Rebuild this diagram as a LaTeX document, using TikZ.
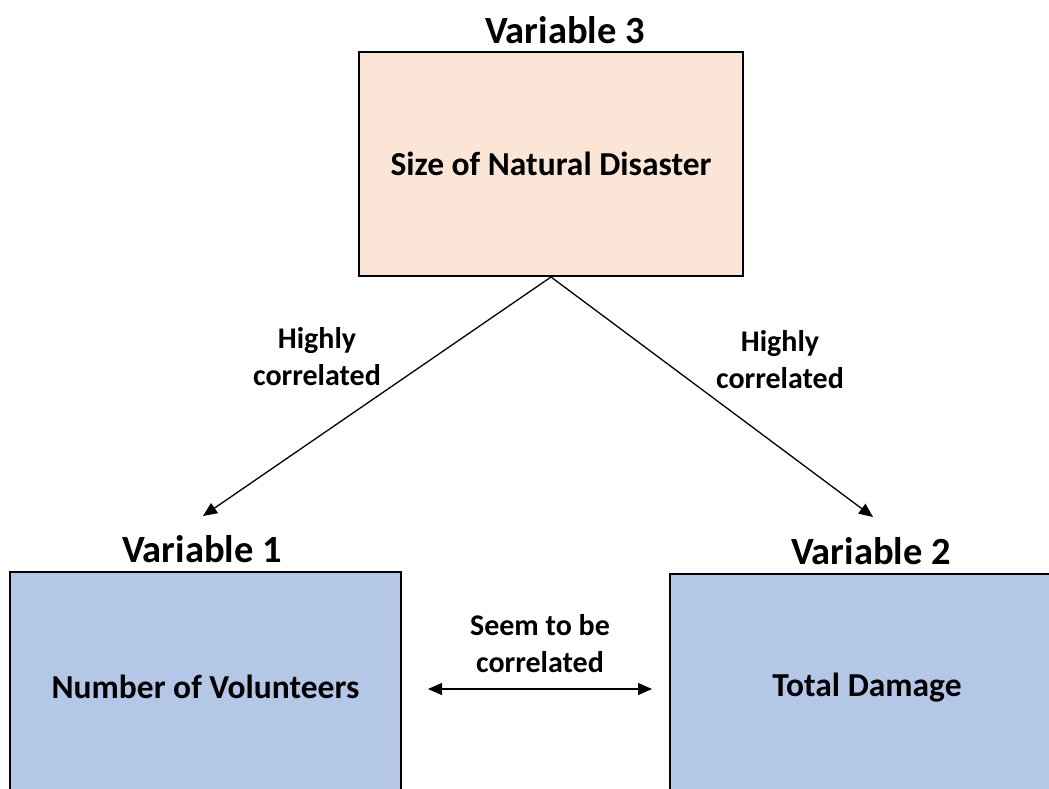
\documentclass[tikz,border=0pt]{standalone}
\usepackage{fontspec}
\setmainfont{Carlito}
\usetikzlibrary{arrows.meta}
\definecolor{peach}{HTML}{FBE5D6}
\definecolor{lblue}{HTML}{B4C7E7}
\begin{document}
\begin{tikzpicture}[x=1pt,y=-1pt,
  box/.style={draw=black,line width=2pt,inner sep=0pt,font=\bfseries\fontsize{33.5}{38}\selectfont},
  head/.style={font=\bfseries\fontsize{38.5}{42}\selectfont},
  lbl/.style={font=\bfseries\fontsize{30}{37}\selectfont,align=center},
  conn/.style={line width=1.3pt,-{Triangle[length=14pt,width=12pt]}}]
\useasboundingbox (0,0) rectangle (1049,789);
\clip (0,0) rectangle (1049,789);
\fill[white] (0,0) rectangle (1049,789);
\node[box,fill=peach,minimum width=384pt,minimum height=224pt] (top) at (551,164) {Size of Natural Disaster};
\node[box,fill=lblue,minimum width=391pt,minimum height=230pt] (left) at (205.5,687) {Number of Volunteers};
\node[box,fill=lblue,minimum width=394pt,minimum height=228pt] (right) at (867,688) {Total Damage};
\node[head] (h3) at (565,30) {Variable 3};
\node[head] (h1) at (202,549) {Variable 1};
\node[head] (h2) at (871,551) {Variable 2};
\coordinate (e1) at (203,516);
\coordinate (e2) at (873,517);
\draw[conn] (top.south) -- (e1);
\draw[conn] (top.south) -- (e2);
\node[lbl] (l1) at (317,357) {Highly\\correlated};
\node[lbl] (l2) at (780,360) {Highly\\correlated};
\node[lbl] (l3) at (540,644) {Seem to be\\correlated};
\coordinate (d1) at (428,689);
\coordinate (d2) at (652,689);
\draw[line width=1.3pt,{Triangle[length=14pt,width=12pt]}-{Triangle[length=14pt,width=12pt]}] (d1) -- (d2);
\end{tikzpicture}
\end{document}
